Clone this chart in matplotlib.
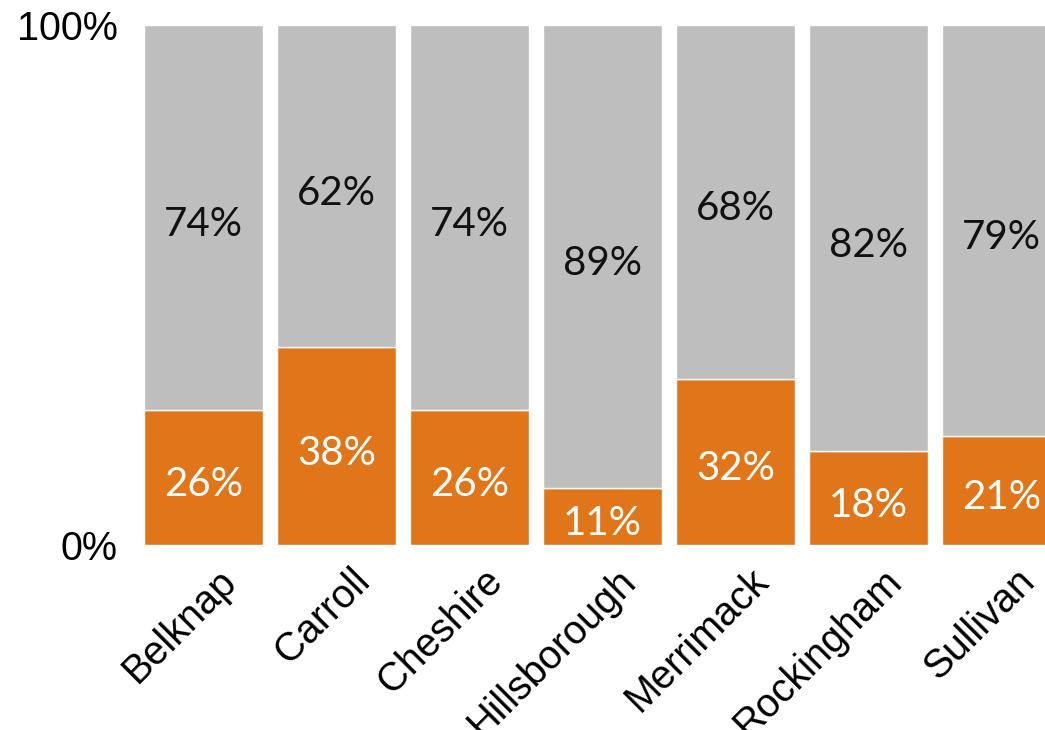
import matplotlib
matplotlib.use("Agg")
import matplotlib.pyplot as plt
import matplotlib.transforms as mtransforms

counties = ["Belknap", "Carroll", "Cheshire", "Hillsborough", "Merrimack", "Rockingham", "Sullivan"]
share_yes = [26, 38, 26, 11, 32, 18, 21]
share_no = [74, 62, 74, 89, 68, 82, 79]
ytick_vals = [0, 100]
ytick_labels = ["0%", "100%"]

orange = "#E07619"
gray = "#BEBEBE"

fig = plt.figure(figsize=(10.45, 7.3), dpi=100)
ax = fig.add_axes([137 / 1045, 185 / 730, 1 - 137 / 1045, 520 / 730])

x = list(range(len(counties)))
ax.bar(x, share_yes, width=0.9, color=orange, edgecolor="white", linewidth=1)
ax.bar(x, share_no, bottom=share_yes, width=0.9, color=gray, edgecolor="white", linewidth=1)

value_font = dict(fontsize=29, family=["Lato", "DejaVu Sans"], weight="normal",
                  ha="center", va="center")
for xi, yv, nv in zip(x, share_yes, share_no):
    ax.annotate(f"{yv}%", (xi, yv / 2), xytext=(0, -5), textcoords="offset points",
                color="white", **value_font)
    ax.annotate(f"{nv}%", (xi, yv + nv / 2), xytext=(0, -5), textcoords="offset points",
                color="#111111", **value_font)

ax.set_xlim(-0.5, (1045 - 203.5) / 133)
ax.set_ylim(0, 100)
for s in ax.spines.values():
    s.set_visible(False)

ax.set_yticks(ytick_vals)
ax.set_yticklabels(ytick_labels, fontsize=28.5, family="Liberation Sans")
ax.tick_params(axis="y", length=0, pad=14)

ax.set_xticks(x)
ax.set_xticklabels(counties, fontsize=28.5, family="Liberation Sans",
                   rotation=45, ha="right", va="center", rotation_mode="anchor")
ax.tick_params(axis="x", length=0, pad=0)
shift = mtransforms.ScaledTranslation(27 / 100, -30 / 100, fig.dpi_scale_trans)
for lbl in ax.get_xticklabels():
    lbl.set_transform(lbl.get_transform() + shift)

fig.savefig("out.png", dpi=100, facecolor="white")
